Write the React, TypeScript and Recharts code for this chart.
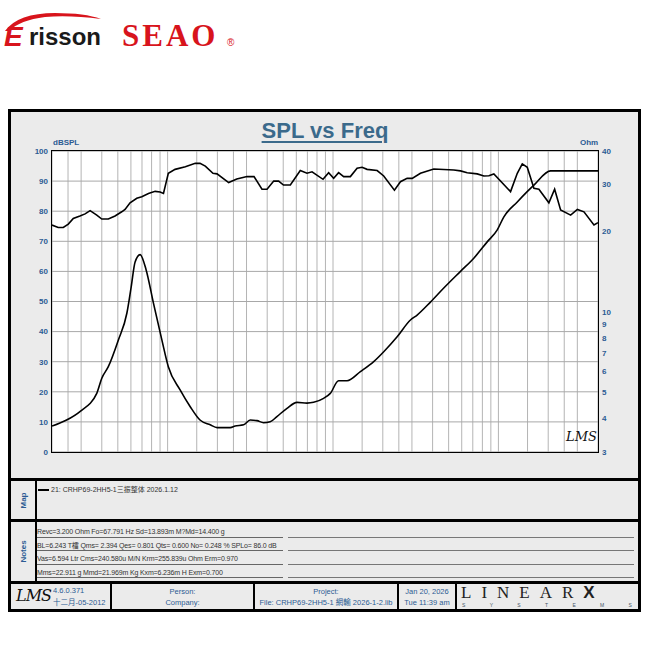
import React from "react";
import { LineChart, Line, XAxis, YAxis, CartesianGrid } from "recharts";

// SPL curve (left axis, dB)
const splFreq = [
  20, 21.8, 23.4, 25.1, 26.9, 29.5, 31.7, 34, 37.3, 40, 43.8, 48.1, 52.8, 55.3, 59.3, 65.1,
  69.8, 76.6, 84.1, 90.1, 94.4, 101, 111, 128, 147, 157, 169, 188, 199, 234, 262, 302, 333,
  372, 399, 438, 469, 502, 552, 634, 696, 747, 870, 941, 1009, 1081, 1160, 1273, 1398, 1499,
  1607, 1849, 2026, 2351, 2557, 2806, 3010, 3378, 4065, 5373, 5900, 6473, 7446, 8163, 8756,
  9386, 11840, 13005, 13940, 14945, 16390, 17570, 20190, 21870, 23770, 27330, 30010, 32900,
  37820, 40000,
];
const splDb = [
  75.4, 74.6, 74.6, 75.7, 77.6, 78.4, 79.1, 80.2, 78.7, 77.4, 77.4, 78.4, 79.8, 80.6, 82.8, 84.3,
  84.8, 85.9, 86.6, 86.4, 85.9, 92.6, 93.9, 94.8, 95.9, 95.9, 95.0, 92.6, 92.4, 89.5, 90.7, 91.5, 91.5,
  87.3, 87.3, 90.0, 90.0, 88.7, 88.7, 93.5, 92.6, 93.1, 90.6, 92.8, 90.9, 92.8, 91.5, 91.5, 94.3, 94.6,
  93.9, 93.5, 91.7, 87.0, 89.8, 90.9, 90.9, 92.6, 94.0, 93.7, 93.4, 92.8, 92.4, 91.7, 91.8,
  92.4, 86.5, 92.6, 95.7, 94.6, 87.6, 87.3, 82.8, 87.3, 80.4, 78.7, 80.6, 79.8,
  75.4, 76.2,
];

// impedance curve (right axis, Ohm)
const impFreq = [
  20, 24.5, 29.5, 37.3, 40, 43.8, 50.4, 56.7, 60.2, 63.6, 68.2, 74.1, 82.1, 92.3, 101, 119, 137,
  157, 181, 199, 239, 256, 288, 316, 347, 380, 417, 458, 527, 606, 696, 763, 877, 963, 1081,
  1216, 1464, 1762, 2026, 2442, 2939, 3226, 3882, 4674, 5900, 7097, 8557, 9843, 10790, 13005,
  16390, 20670, 40000,
];
const impOhm = [
  3.75, 3.95, 4.25, 4.97, 5.66, 6.25, 7.87, 9.9, 12.4, 15.4, 16.4, 14.4, 10.8, 7.87, 6.25, 5.12, 4.43,
  3.95, 3.79, 3.7, 3.7, 3.75, 3.79, 3.95, 3.93, 3.86, 3.89, 4.07, 4.37, 4.6, 4.57, 4.6, 4.76, 4.97, 5.54,
  5.54, 5.99, 6.53, 7.11, 8.09, 9.34, 9.75, 10.9, 12.3, 14.2, 15.9, 18.3, 20.3, 22.7, 25.8,
  29.8, 33.7, 33.7,
];

const freqTicks = [20, 50, 100, 200, 500, 1000, 2000, 5000, 10000, 20000, 40000];
const freqLabels = ["20\u00a0\u00a0Hz", "50", "100", "200", "500", "1K", "2K", "5K", "10K", "20K", "40K"];
const gridFreqs = [
  20, 25, 30, 40, 50, 60, 70, 80, 90, 100, 150, 200, 250, 300, 400, 500, 600, 700, 800, 900,
  1000, 1500, 2000, 2500, 3000, 4000, 5000, 6000, 7000, 8000, 9000, 10000, 15000, 20000,
  25000, 30000, 40000,
];
const dbTicks = [0, 10, 20, 30, 40, 50, 60, 70, 80, 90, 100];
const dbMinorTicks = Array.from({ length: 51 }, (_, i) => i * 2);
const ohmTicks = [3, 4, 5, 6, 7, 8, 9, 10, 20, 30, 40];

const mapEntry = "21: CRHP69-2HH5-1三振整体 2026.1.12";
const notes = [
  "Revc=3.200 Ohm  Fo=67.791 Hz  Sd=13.893m M?Md=14.400 g",
  "BL=6.243 T檑  Qms= 2.394  Qes= 0.801  Qts= 0.600  No= 0.248 %  SPLo= 86.0 dB",
  "Vas=6.594 Ltr  Cms=240.580u M/N  Krm=255.839u Ohm  Erm=0.970",
  "Mms=22.911 g  Mmd=21.969m Kg  Kxm=6.236m H  Exm=0.700",
];

const splData = splFreq.map((f, i) => ({ f, spl: splDb[i] }));
const impData = impFreq.map((f, i) => ({ f, z: impOhm[i] }));

const BLUE = "#2b5b93";
const RED_TICK = "#a8325f";
const FONT = 'Arial, "Liberation Sans", "Noto Sans CJK SC", sans-serif';

const XTick = (props: any) => {
  const { x, y, payload } = props;
  const i = freqTicks.indexOf(payload.value);
  const first = i === 0;
  return (
    <text
      x={first ? x - 5 : x}
      y={y + 6}
      textAnchor={first ? "start" : "middle"}
      fill={RED_TICK}
      fontSize={8}
      fontWeight="bold"
      fontFamily={FONT}
    >
      {i >= 0 ? freqLabels[i] : ""}
    </text>
  );
};

const abs = (l: number, t: number, w: number, h: number, extra: React.CSSProperties = {}): React.CSSProperties => ({
  position: "absolute",
  left: l,
  top: t,
  width: w,
  height: h,
  ...extra,
});

export default function App() {
  const noteY = [527, 540.5, 554, 567.5];
  return (
    <div style={abs(0, 0, 650, 650, { background: "#fff", fontFamily: FONT, overflow: "hidden" })}>
      {/* logos */}
      <svg style={abs(0, 0, 260, 70)} width={260} height={70}>
        <path d="M5 31 Q18 13 55 13 Q85 13 101 19 Q70 15 45 17 Q20 20 9 31 Z" fill="#d8141c" />
        <text x={4} y={46} fontSize={28} fontWeight="bold" fontStyle="italic" fill="#d8141c" fontFamily={FONT}>E</text>
        <text x={29} y={45} fontSize={24} fontWeight="bold" fill="#1a1a1a" fontFamily={FONT}>risson</text>
        <text x={122} y={46} fontSize={31} fontWeight="bold" fill="#d8141c" fontFamily='"Liberation Serif", serif' letterSpacing={3}>SEAO</text>
        <text x={227} y={46} fontSize={10} fill="#d8141c" fontFamily={FONT}>®</text>
      </svg>

      {/* outer frame */}
      <div style={abs(8, 109, 633, 503, { border: "3px solid #000", background: "#ebebeb", boxSizing: "border-box" })} />

      {/* title */}
      <div style={abs(200, 118, 250, 28, { textAlign: "center", fontSize: 22, fontWeight: "bold", color: "#3b6a8b", textDecoration: "underline", textUnderlineOffset: 3, textDecorationThickness: 2 })}>
        SPL vs Freq
      </div>
      <div style={abs(53, 138, 40, 10, { fontSize: 8, fontWeight: "bold", color: BLUE })}>dBSPL</div>
      <div style={abs(580, 138, 30, 10, { fontSize: 8, fontWeight: "bold", color: BLUE })}>Ohm</div>

      {/* chart */}
      <div style={abs(11, 112, 627, 366)}>
        <LineChart width={627} height={366} margin={{ top: 39, right: 10, left: 11, bottom: 6 }}>
          <XAxis xAxisId="x" type="number" dataKey="f" scale="log" domain={[20, 40000]} allowDataOverflow
            ticks={freqTicks} tick={<XTick />} tickLine={false} axisLine={false} tickSize={0} tickMargin={5} height={20} interval={0} />
          <XAxis xAxisId="grid" type="number" dataKey="f" scale="log" domain={[20, 40000]} allowDataOverflow
            ticks={gridFreqs} hide interval={0} />
          <YAxis yAxisId="db" orientation="left" domain={[0, 100]} ticks={dbTicks} width={30} interval={0}
            tick={{ fill: BLUE, fontSize: 8, fontWeight: "bold" }} tickLine={false} axisLine={false} tickSize={0} tickMargin={4} />
          <YAxis yAxisId="ohm" orientation="right" scale="log" domain={[3, 40]} allowDataOverflow ticks={ohmTicks} width={30} interval={0}
            tick={{ fill: BLUE, fontSize: 8, fontWeight: "bold" }} tickLine={false} axisLine={false} tickSize={0} tickMargin={4} />
          <YAxis yAxisId="dbMinor" domain={[0, 100]} ticks={dbMinorTicks} hide interval={0} />
          <CartesianGrid xAxisId="grid" yAxisId="dbMinor" vertical={false} stroke="#d9d9d9" fill="#fff" />
          <CartesianGrid xAxisId="grid" yAxisId="db" horizontal={false} stroke="#b4b4b4" />
          <CartesianGrid xAxisId="grid" yAxisId="db" vertical={false} stroke="#a8a8a8" />
          <Line xAxisId="x" yAxisId="db" data={splData} dataKey="spl" type="linear" stroke="#000" strokeWidth={1.6}
            dot={false} isAnimationActive={false} />
          <Line xAxisId="x" yAxisId="ohm" data={impData} dataKey="z" type="monotone" stroke="#000" strokeWidth={1.6}
            dot={false} isAnimationActive={false} />
        </LineChart>
      </div>
      {/* plot border */}
      <div style={abs(51, 150, 548, 303, { border: "1.5px solid #000", boxSizing: "border-box", pointerEvents: "none" })} />
      <div style={abs(566, 429, 30, 18, { fontSize: 13, fontStyle: "italic", fontFamily: '"DejaVu Serif", serif', color: "#111" })}>LMS</div>

      {/* section separators */}
      <div style={abs(8, 478, 633, 3, { background: "#000" })} />
      <div style={abs(8, 519, 633, 3, { background: "#000" })} />
      <div style={abs(8, 581, 633, 3, { background: "#000" })} />
      <div style={abs(35, 481, 2, 100, { background: "#000" })} />

      {/* map */}
      <div style={abs(11, 481, 24, 38, { display: "flex", alignItems: "center", justifyContent: "center" })}>
        <span style={{ transform: "rotate(-90deg)", fontSize: 8, fontWeight: "bold", color: BLUE }}>Map</span>
      </div>
      <div style={abs(38, 489, 11, 1.5, { background: "#000" })} />
      <div style={{ position: "absolute", left: 51, top: 484, fontSize: 7, color: "#333", whiteSpace: "nowrap" }}>{mapEntry}</div>

      {/* notes */}
      <div style={abs(11, 522, 24, 59, { display: "flex", alignItems: "center", justifyContent: "center" })}>
        <span style={{ transform: "rotate(-90deg)", fontSize: 8, fontWeight: "bold", color: BLUE }}>Notes</span>
      </div>
      {notes.map((n, i) => (
        <React.Fragment key={i}>
          <div style={abs(37, noteY[i], 250, 10, { fontSize: 7, lineHeight: "10px", color: "#333", whiteSpace: "nowrap", letterSpacing: -0.15 })}>{n}</div>
          <div style={abs(37, noteY[i] + 9.5, 246, 1, { background: "#666" })} />
          <div style={abs(288, noteY[i] + 9.5, 346, 1, { background: "#777" })} />
        </React.Fragment>
      ))}

      {/* footer */}
      {[110, 253, 397, 455].map((x) => (
        <div key={x} style={abs(x, 584, 2, 26, { background: "#000" })} />
      ))}
      <div style={abs(16, 586, 34, 20, { fontSize: 16, fontStyle: "italic", fontFamily: '"DejaVu Serif", serif', color: "#111", letterSpacing: -1 })}>LMS</div>
      <div style={abs(53, 586, 56, 10, { fontSize: 7.5, lineHeight: "10px", color: BLUE })}>4.6.0.371</div>
      <div style={abs(53, 598, 56, 10, { fontSize: 7.5, lineHeight: "10px", color: BLUE, whiteSpace: "nowrap" })}>十二月-05-2012</div>
      <div style={abs(112, 586, 141, 22, { fontSize: 7.5, color: BLUE, textAlign: "center", lineHeight: "11px" })}>
        Person:<br />Company:
      </div>
      <div style={abs(255, 586, 142, 22, { fontSize: 7.5, color: BLUE, textAlign: "center", lineHeight: "11px", whiteSpace: "nowrap" })}>
        Project:<br />File: CRHP69-2HH5-1 網輸 2026-1-2.lib
      </div>
      <div style={abs(399, 586, 56, 22, { fontSize: 7.5, color: BLUE, textAlign: "center", lineHeight: "11px" })}>
        Jan 20, 2026<br />Tue 11:39 am
      </div>
      <div style={abs(461, 584, 178, 18, { fontSize: 17, lineHeight: "18px", fontFamily: '"Liberation Serif", serif', color: "#222", letterSpacing: 10, whiteSpace: "nowrap" })}>
        LINEAR<span style={{ fontFamily: FONT, fontWeight: 900, letterSpacing: 0 }}>X</span>
      </div>
      <div style={abs(462, 602, 170, 7, { fontSize: 5, lineHeight: "7px", color: "#456", display: "flex", justifyContent: "space-between" })}>
        {"SYSTEMS".split("").map((c, i) => <span key={i}>{c}</span>)}
      </div>
    </div>
  );
}
